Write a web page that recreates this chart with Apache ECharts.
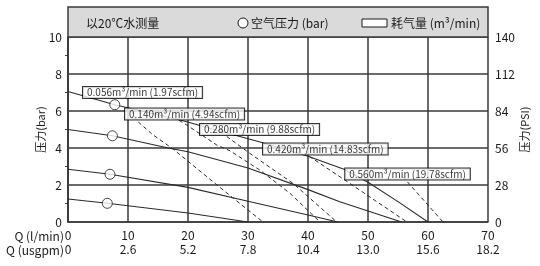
<!DOCTYPE html>
<html>
<head>
<meta charset="utf-8">
<script src="https://cdn.jsdelivr.net/npm/echarts@6/dist/echarts.min.js"></script>
<style>
html, body { margin: 0; padding: 0; background: #fff; }
#chart { width: 540px; height: 266px; }
</style>
</head>
<body>
<div id="chart"></div>
<script>
// tick labels
const flowTicks = [0, 10, 20, 30, 40, 50, 60, 70]
const gpmTicks = ['0', '2.6', '5.2', '7.8', '10.4', '13.0', '15.6', '18.2']

// air pressure curves (flow l/min, head bar)
const press7 = [[0, 7.05], [7.8, 6.34], [18.7, 5.51], [25, 4.95], [32, 4.32], [40, 3.55], [46, 2.85], [50, 2.15], [55, 1.1], [60, 0]]
const press5 = [[0, 5.0], [7.4, 4.66], [16.7, 4.0], [20, 3.8], [30, 2.92], [40, 1.75], [45.3, 1.09], [50, 0.6], [55.6, 0]]
const press3 = [[0, 2.85], [7, 2.58], [20, 1.87], [30, 1.12], [40, 0.38], [45, 0]]
const press1 = [[0, 1.24], [6.55, 1.01], [20, 0.49], [30, 0]]
const pressMarks = [[7.8, 6.34], [7.4, 4.66], [7.0, 2.58], [6.55, 1.01]]

// air consumption curves
const air056 = [[10.5, 6.05], [11.4, 5.5], [14, 4.75], [17.5, 3.95], [22, 2.75], [27.5, 1.3], [32.5, 0]]
const air140 = [[18.5, 5.5], [19.8, 5.24], [24.8, 4.16], [27, 3.85], [32, 2.8], [37, 1.55], [42, 0]]
const air280 = [[25.5, 4.85], [30.3, 3.71], [37.5, 2.09], [44.8, 0]]
const air420 = [[40.2, 3.55], [46, 2.3], [51, 1.2], [56.5, 0]]
const air560 = [[55.8, 2.45], [62.5, 0]]
const airNames = ['0.056m³/min (1.97scfm)', '0.140m³/min (4.94scfm)', '0.280m³/min (9.88scfm)', '0.420m³/min (14.83scfm)', '0.560m³/min (19.78scfm)']

const FONT = 'Noto Sans CJK SC'
const INK = '#1a1a1a'
const GRID = '#3a3a3a'

const chart = echarts.init(document.getElementById('chart'))

const solid = (name, data) => ({
  name, type: 'line', data, showSymbol: false, silent: true, z: 3,
  lineStyle: { color: '#2a2a2a', width: 1.1 }
})
const dashed = (name, data) => ({
  name, type: 'line', data, showSymbol: false, silent: true, z: 2,
  lineStyle: { color: '#2a2a2a', width: 1, type: [4, 3] }
})

// where each consumption label box sits (left edge, middle)
const labelSpots = [[2.5, 7.0], [9.5, 5.84], [22, 5.0], [32.5, 3.95], [46.2, 2.6]]

const headFont = '12px "Noto Sans CJK SC"'

const option = {
  animation: false,
  textStyle: { fontFamily: FONT },
  grid: { left: 68, right: 52, top: 37, bottom: 44 },
  xAxis: [{
    type: 'value', min: 0, max: 70, interval: 10,
    axisLine: { show: true, lineStyle: { color: GRID, width: 1.5 } },
    axisTick: { show: false },
    splitLine: { show: true, lineStyle: { color: GRID, width: 1.5 } },
    axisLabel: { color: INK, fontSize: 12, margin: 7, fontFamily: FONT, showMaxLabel: true }
  }, {
    type: 'value', min: 0, max: 70, interval: 10, position: 'bottom', offset: 14,
    axisLine: { show: false }, axisTick: { show: false }, splitLine: { show: false },
    axisLabel: {
      color: INK, fontSize: 12, margin: 7, fontFamily: FONT, showMaxLabel: true,
      formatter: v => gpmTicks[flowTicks.indexOf(v)]
    }
  }],
  yAxis: [{
    type: 'value', min: 0, max: 10, interval: 2,
    name: '压力(bar)', nameLocation: 'middle', nameGap: 22, nameMoveOverlap: false,
    nameTextStyle: { color: INK, fontSize: 11, fontFamily: FONT },
    axisLine: { show: true, lineStyle: { color: GRID, width: 1.5 } },
    axisTick: { show: false },
    minorTick: { show: true, splitNumber: 2, length: 3, lineStyle: { color: GRID } },
    splitLine: { show: true, lineStyle: { color: GRID, width: 1.5 } },
    axisLabel: { color: INK, fontSize: 12, margin: 6, fontFamily: FONT }
  }, {
    type: 'value', min: 0, max: 140, interval: 28, position: 'right',
    name: '压力(PSI)', nameLocation: 'middle', nameGap: 31, nameRotate: 90, nameMoveOverlap: false,
    nameTextStyle: { color: INK, fontSize: 11, fontFamily: FONT },
    axisLine: { show: true, lineStyle: { color: GRID, width: 1.5 } },
    axisTick: { show: false }, splitLine: { show: false },
    axisLabel: { color: INK, fontSize: 12, margin: 7, fontFamily: FONT }
  }],
  graphic: [
    { type: 'rect', z: 1, shape: { x: 68, y: 7, width: 420, height: 30 }, style: { fill: '#dadada', stroke: GRID, lineWidth: 1.5 } },
    { type: 'text', z: 5, x: 86, y: 23, style: { text: '以20℃水测量', font: headFont, fill: INK, verticalAlign: 'middle' } },
    { type: 'circle', z: 5, shape: { cx: 243, cy: 23, r: 5 }, style: { fill: '#fff', stroke: INK, lineWidth: 1 } },
    { type: 'text', z: 5, x: 251, y: 23, style: { text: '空气压力 (bar)', font: headFont, fill: INK, verticalAlign: 'middle' } },
    { type: 'rect', z: 5, shape: { x: 362, y: 19, width: 25, height: 8 }, style: { fill: '#fff', stroke: INK, lineWidth: 1 } },
    { type: 'text', z: 5, x: 391, y: 23, style: { text: '耗气量 (m³/min)', font: headFont, fill: INK, verticalAlign: 'middle' } },
    { type: 'text', z: 5, x: 64, y: 236, style: { text: 'Q (l/min)', font: headFont, fill: INK, align: 'right', verticalAlign: 'middle' } },
    { type: 'text', z: 5, x: 64, y: 250, style: { text: 'Q (usgpm)', font: headFont, fill: INK, align: 'right', verticalAlign: 'middle' } }
  ],
  series: [
    solid('7bar', press7), solid('5bar', press5), solid('3bar', press3), solid('1bar', press1),
    dashed(airNames[0], air056), dashed(airNames[1], air140), dashed(airNames[2], air280),
    dashed(airNames[3], air420), dashed(airNames[4], air560),
    {
      name: '空气压力', type: 'scatter', data: pressMarks, symbol: 'circle', symbolSize: 10, z: 5, silent: true,
      itemStyle: { color: '#fff', borderColor: INK, borderWidth: 1 }
    },
    {
      name: 'labels', type: 'scatter', symbolSize: 0, z: 10, silent: true,
      data: airNames.map((n, i) => ({ name: n, value: labelSpots[i] })),
      label: {
        show: true, position: 'right', distance: 0, formatter: '{b}',
        color: '#000', fontSize: 10, fontFamily: FONT,
        backgroundColor: '#fff', borderColor: '#000', borderWidth: 1, padding: [1, 4, 0, 4]
      }
    }
  ]
}

chart.setOption(option)
window.addEventListener('resize', () => chart.resize())
</script>
</body>
</html>
